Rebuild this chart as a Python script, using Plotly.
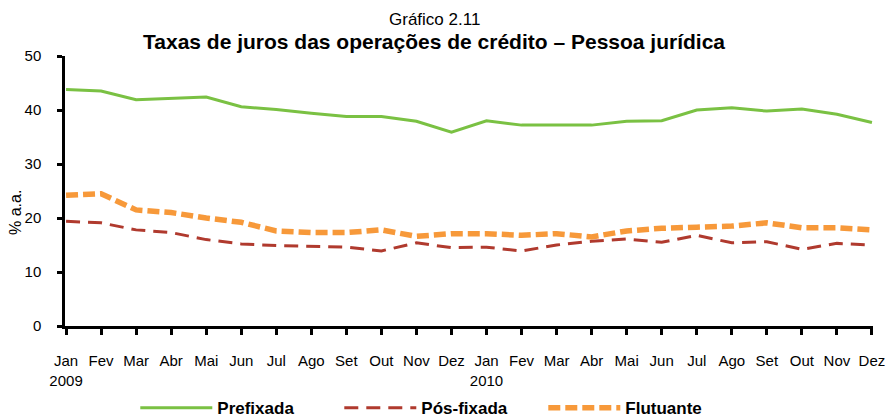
import plotly.graph_objects as go

months = ["Jan<br>2009", "Fev", "Mar", "Abr", "Mai", "Jun", "Jul", "Ago", "Set", "Out", "Nov", "Dez",
          "Jan<br>2010", "Fev", "Mar", "Abr", "Mai", "Jun", "Jul", "Ago", "Set", "Out", "Nov", "Dez"]
prefixada = [43.8, 43.5, 41.9, 42.2, 42.4, 40.6, 40.1, 39.4, 38.8, 38.8, 37.9, 35.9,
             38.0, 37.2, 37.2, 37.2, 37.9, 38.0, 40.0, 40.4, 39.8, 40.2, 39.2, 37.7]
posfixada = [19.4, 19.1, 17.8, 17.3, 16.0, 15.2, 14.9, 14.7, 14.6, 13.9, 15.4, 14.5,
             14.6, 13.9, 15.0, 15.7, 16.1, 15.5, 16.8, 15.4, 15.6, 14.2, 15.3, 15.0]
flutuante = [24.2, 24.5, 21.5, 21.0, 20.0, 19.2, 17.6, 17.3, 17.3, 17.8, 16.6, 17.1,
             17.1, 16.8, 17.1, 16.5, 17.6, 18.1, 18.3, 18.5, 19.1, 18.2, 18.2, 17.8]
yticks = [0, 10, 20, 30, 40, 50]

x = list(range(len(months)))
font = "Liberation Sans, Arial, sans-serif"

fig = go.Figure()
fig.add_trace(go.Scatter(x=x, y=prefixada, name="Prefixada", mode="lines",
                         line=dict(color="#7AC143", width=3)))
fig.add_trace(go.Scatter(x=x, y=posfixada, name="Pós-fixada", mode="lines",
                         line=dict(color="#B03A2E", width=3, dash="14px,8px")))
fig.add_trace(go.Scatter(x=x, y=flutuante, name="Flutuante", mode="lines",
                         line=dict(color="#F7993A", width=5.5, dash="12px,5px")))

fig.update_layout(
    width=890, height=420,
    margin=dict(l=65, r=17, t=56, b=94),
    plot_bgcolor="white", paper_bgcolor="white",
    font=dict(family=font, size=15, color="black"),
    showlegend=True,
    legend=dict(orientation="h", x=0.087, xanchor="left", xref="paper",
                y=0.028, yanchor="middle", yref="container",
                font=dict(family=font, size=17, color="black", weight="bold"),
                itemwidth=72, entrywidth=117, entrywidthmode="pixels", tracegroupgap=0),
    xaxis=dict(range=[-0.03, 23.03], tickmode="array", tickvals=x, ticktext=months,
               showline=True, linecolor="black", linewidth=3, ticks="outside",
               tickcolor="black", tickwidth=2.5, ticklen=6, showgrid=False, zeroline=False,
               tickfont=dict(size=15), ticklabelstandoff=13, automargin=False),
    yaxis=dict(range=[0, 50], tickvals=yticks, showline=True, linecolor="black",
               linewidth=2.5, ticks="outside", tickcolor="black", tickwidth=2.5, ticklen=5,
               showgrid=False, zeroline=False, tickfont=dict(size=15), ticklabelstandoff=13,
               automargin=False),
    annotations=[
        dict(text="Gráfico 2.11", x=0.4567, xref="paper", xanchor="center", y=1, yref="paper",
             yanchor="middle", yshift=37, showarrow=False, font=dict(size=17)),
        dict(text="<b>Taxas de juros das operações de crédito – Pessoa jurídica</b>",
             x=0.4567, xref="paper", xanchor="center", y=1, yref="paper",
             yanchor="middle", yshift=15, showarrow=False, font=dict(size=21)),
        dict(text="% a.a.", textangle=-90, x=-0.062, xref="paper", xanchor="center",
             y=0.422, yref="paper", yanchor="middle", showarrow=False, font=dict(size=16)),
    ],
)

fig.write_html("out.html", config={"displayModeBar": False},
               post_script="document.body.style.margin='0';")
